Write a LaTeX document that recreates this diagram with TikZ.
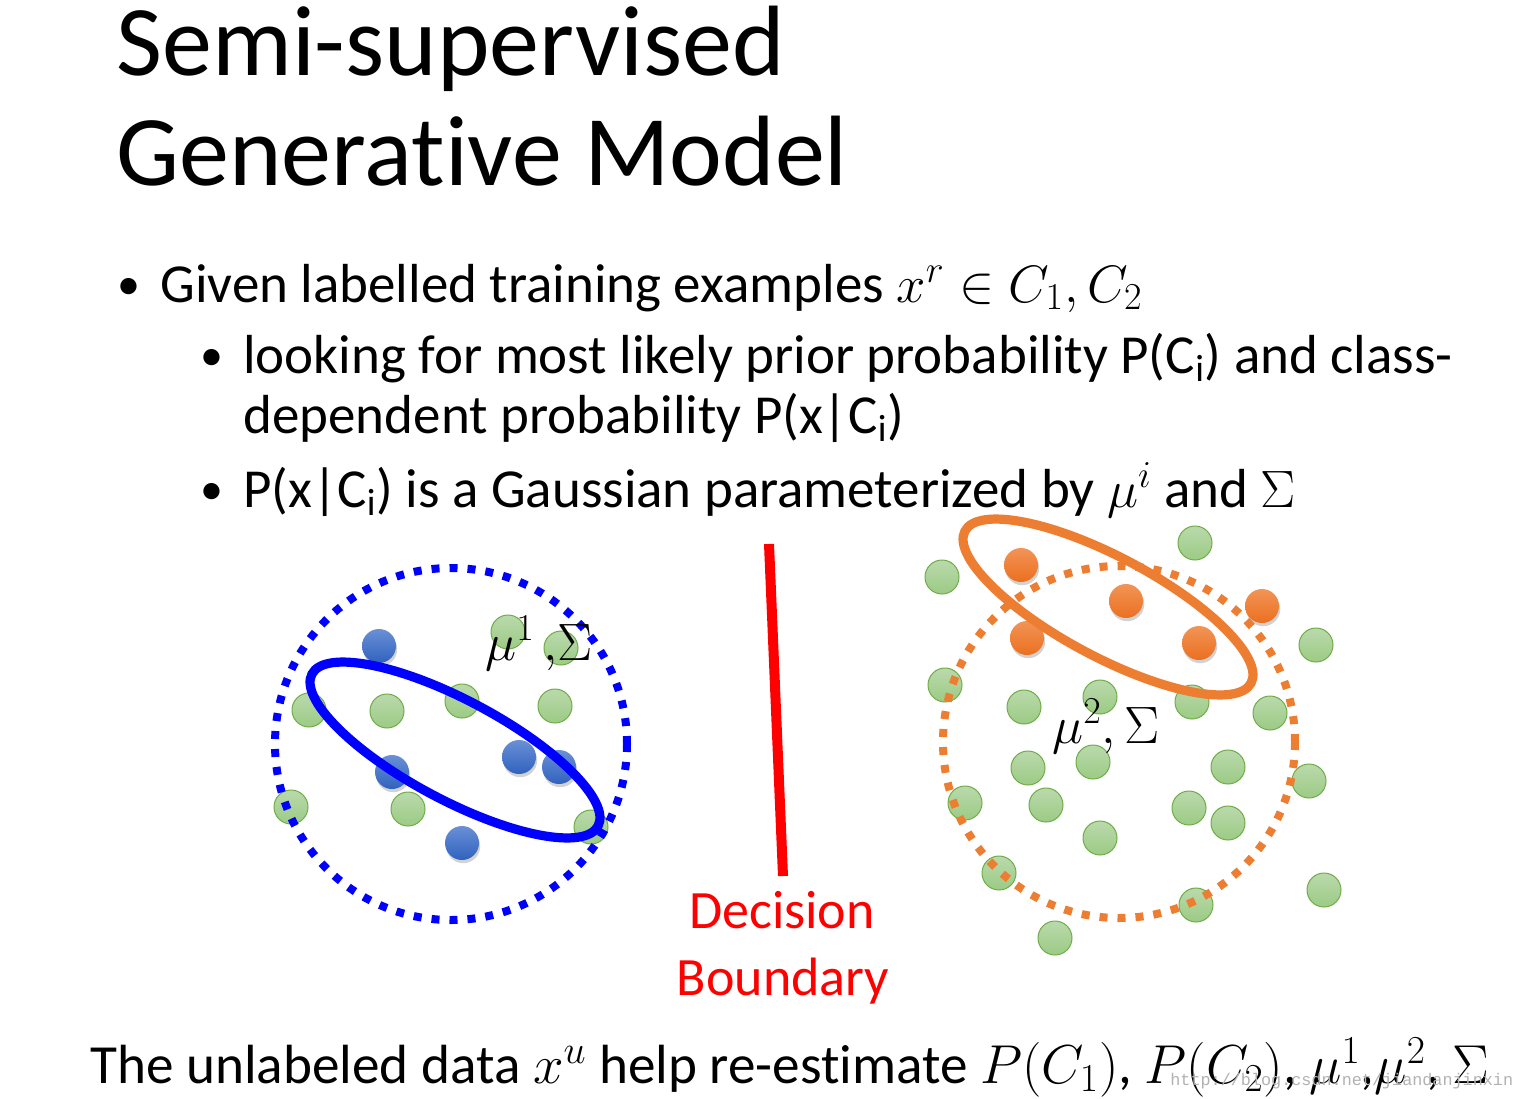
\RequirePackage{fix-cm}
\documentclass[tikz,border=0pt]{standalone}
\usepackage{fontspec}
\setmainfont{Carlito}[Ligatures={NoCommon,NoContextual,NoRequired}, Contextuals=NoAlternate]
\newfontfamily\wmfont{Liberation Mono}
\DeclareMathSizes{27.5}{26.3}{19}{14}
\DeclareMathSizes{27.6}{27.4}{19.8}{14.5}
\newcommand{\tiX}{t\kern0pt i}
\usetikzlibrary{shadows}
\definecolor{gfillA}{HTML}{BAD9AC}
\definecolor{gfillB}{HTML}{9CCB85}
\definecolor{gline}{HTML}{70AD47}
\definecolor{bfillA}{HTML}{6A90D6}
\definecolor{bfillB}{HTML}{3062BE}
\definecolor{ofillA}{HTML}{F29456}
\definecolor{ofillB}{HTML}{EB7020}
\definecolor{orangeline}{HTML}{ED7D31}
\definecolor{pureblue}{HTML}{0000FF}
\definecolor{purered}{HTML}{FF0000}
\tikzset{
  dotbase/.style={circle, minimum size=17pt, inner sep=0pt},
  gdot/.style={dotbase, draw=gline, line width=0.5pt, top color=gfillA, bottom color=gfillB},
  bdot/.style={dotbase, top color=bfillA, bottom color=bfillB,
    drop shadow={shadow xshift=0.6pt, shadow yshift=-1.6pt, opacity=0.35}},
  odot/.style={dotbase, top color=ofillA, bottom color=ofillB,
    drop shadow={shadow xshift=0.6pt, shadow yshift=-1.6pt, opacity=0.35}},
  dottedring/.style={line width=4pt, dash pattern=on 4pt off 5pt},
  solidring/.style={line width=4.6pt},
  bodytext/.style={anchor=base west, inner sep=0pt, font=\fontsize{27.5}{33}\selectfont},
  bottomtext/.style={anchor=base west, inner sep=0pt, font=\fontsize{27.6}{33}\selectfont},
  bullettext/.style={anchor=base west, inner sep=0pt, font=\fontsize{23}{28}\selectfont},
  titletext/.style={anchor=base west, inner sep=0pt, font=\fontsize{50}{55}\selectfont},
  redtext/.style={anchor=base, inner sep=0pt, text=purered, font=\fontsize{27}{33}\selectfont},
}
\begin{document}
\begin{tikzpicture}[x=0.5pt, y=-0.5pt]
\useasboundingbox[fill=white] (0,0) rectangle (1521,1098);

% title
\node[titletext] (t1) at (116,75) {Semi-supervised};
\node[titletext] (t2) at (116,185) {Genera\tiX ve Model};

% bullets
\node[bullettext] (b1) at (117,299) {\textbullet};
\node[bodytext] (l1) at (160,302) {Given labelled training examples $x^r \in C_1, C_2$};
\node[bullettext] (b2) at (200,370) {\textbullet};
\node[bodytext] (l2) at (243,373) {looking for most likely prior probability P(C\textsubscript{i}) and class-};
\node[bodytext] (l3) at (243,433) {dependent probability P(x|C\textsubscript{i})};
\node[bullettext] (b3) at (200,504) {\textbullet};
\node[bodytext] (l4) at (243,507) {P(x|C\textsubscript{i}) is a Gaussian parameterized by $\mu^i$ and $\Sigma$};

% ---- left cluster ----
\foreach \n/\x/\y in {1/508/632, 2/561/648, 3/309/710, 4/387/711, 5/462/701,
                      6/555/706, 7/291/807, 8/408/809, 9/591/827}
  \node[gdot] (lg\n) at (\x,\y) {};
\foreach \n/\x/\y in {1/379/646, 2/392/772, 3/519/757, 4/559/767, 5/462/843}
  \node[bdot] (lb\n) at (\x,\y) {};
\draw[pureblue, dottedring] (451,744) circle (176);
\draw[pureblue, solidring, rotate around={-28:(455,750)}] (455,750) ellipse (162 and 50);
\node[bodytext] (mu1) at (485,660) {$\mu^1\,{,}\Sigma$};

% ---- decision boundary ----
\coordinate (rtop) at (769,544);
\coordinate (rbot) at (783,876);
\draw[purered, line width=5pt] (rtop) -- (rbot);
\node[redtext] (dec) at (782,928) {Decision};
\node[redtext] (bnd) at (783,995) {Boundary};

% ---- right cluster ----
\foreach \n/\x/\y in {1/1195/543, 2/942/577, 3/1316/645, 4/945/685, 5/1024/707,
                      6/1100/697, 7/1192/702, 8/1270/713, 9/1028/768, 10/1093/762,
                      11/1228/767, 12/1309/781, 13/965/803, 14/1046/805, 15/1189/808,
                      16/1228/823, 17/1100/838, 18/999/873, 19/1324/890, 20/1196/905,
                      21/1055/938}
  \node[gdot] (rg\n) at (\x,\y) {};
\foreach \n/\x/\y in {1/1021/565, 2/1126/601, 3/1262/606, 4/1027/638, 5/1199/643}
  \node[odot] (ro\n) at (\x,\y) {};
\draw[orangeline, dottedring] (1119,742) circle (176);
\draw[orangeline, solidring, rotate around={-28:(1108,607)}] (1108,607) ellipse (162 and 50);
\node[bodytext] (mu2) at (1052,743) {$\mu^2,\Sigma$};

% bottom line
\node[bottomtext] (bot) at (90,1083) {The unlabeled data $x^u$ help re-es\tiX mate $P(C_1)$, $P(C_2)$, $\mu^1$,$\mu^2$, $\Sigma$};
\node[anchor=base west, inner sep=0pt, text=black!30, font=\wmfont\fontsize{8.4}{10}\selectfont] (wm) at (1170,1085) {http://blog.csdn.net/jiandanjinxin};
\end{tikzpicture}
\end{document}
